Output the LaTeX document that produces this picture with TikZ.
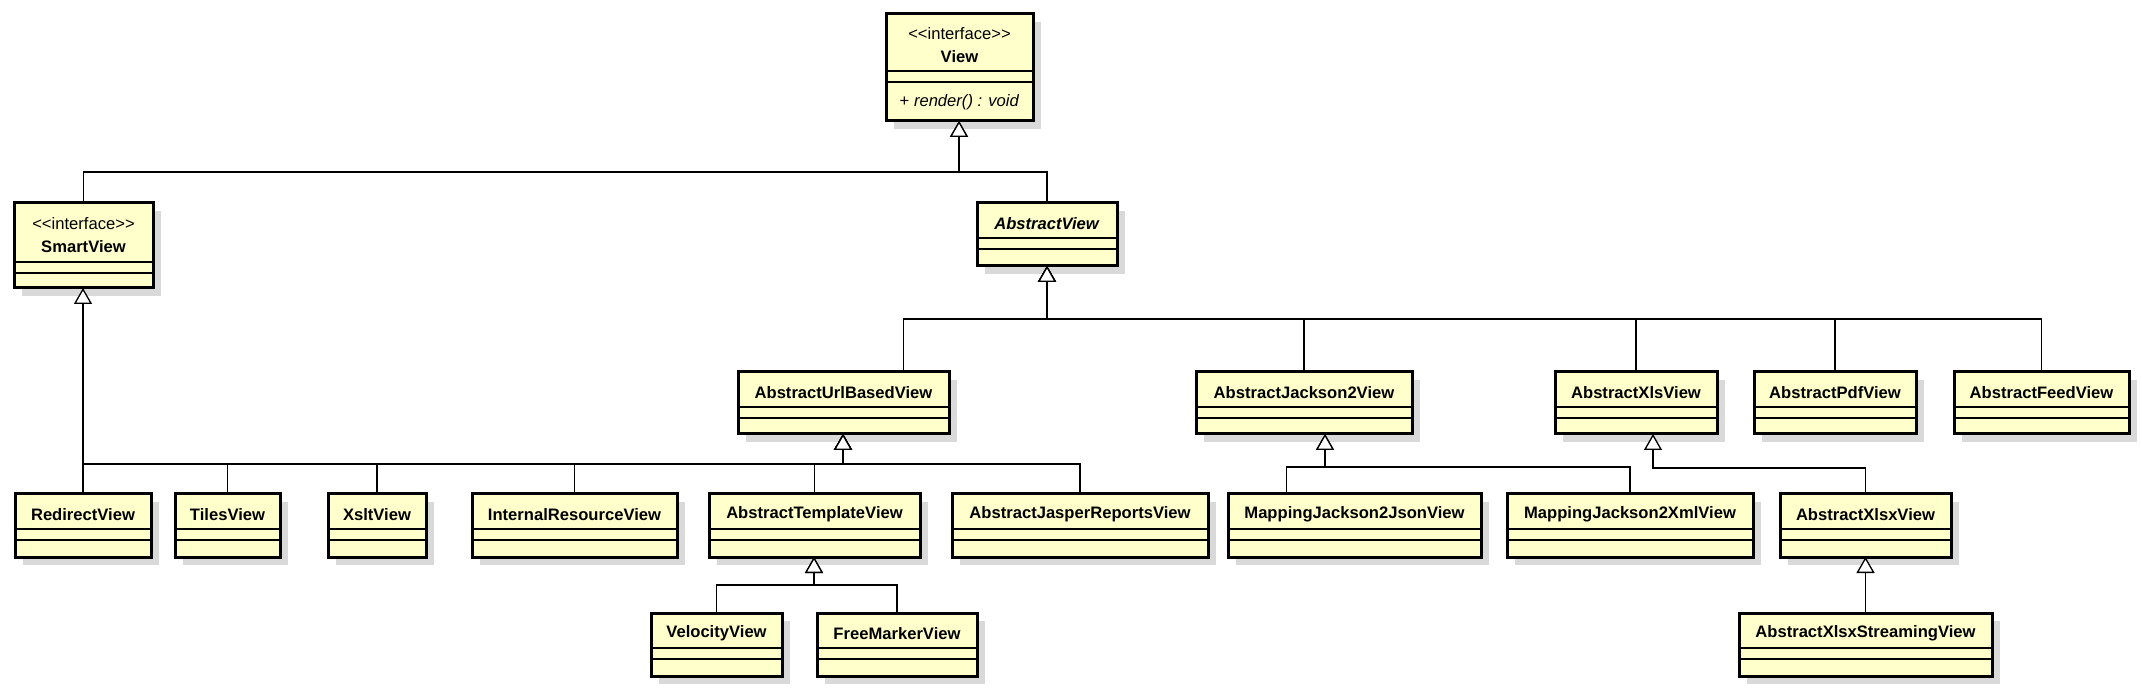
\documentclass[tikz,border=0pt]{standalone}
\usepackage{fontspec}
\setmainfont{Liberation Sans}
\usetikzlibrary{arrows.meta,calc}
\definecolor{classfill}{RGB}{255,255,204}
\tikzset{
  klassbox/.style={draw, fill=classfill, line width=1.5pt, inner sep=0pt, outer sep=0pt},
  klassshadow/.style={fill=black!15},
  klasssep/.style={line width=0.6pt},
  klasstext/.style={font=\fontsize{8.3}{11.5}\selectfont\bfseries, align=center, inner sep=0pt},
  gen/.style={line width=0.65pt, -{Triangle[fill=white,length=8pt,width=9pt]}}
}
% #1 header height, #2 name, #3-#6 corners (px), #7 text
\newcommand{\klass}[7][35]{%
  \fill[klassshadow] (#3+8,#4+8) rectangle (#5+8,#6+8);
  \node[klassbox, anchor=north west, minimum width={0.5pt*(#5-#3)},
        minimum height={0.5pt*(#6-#4)}] (#2) at (#3,#4) {};
  \draw[klasssep] ([yshift={-0.5pt*#1}]#2.north west) -- ([yshift={-0.5pt*#1}]#2.north east)
        ([yshift={-0.5pt*(#1+11)}]#2.north west) -- ([yshift={-0.5pt*(#1+11)}]#2.north east);
  \node[klasstext] (#2-name) at ([yshift={-0.5pt*(#1/2+3)}]#2.north) {#7};
}
\begin{document}
\begin{tikzpicture}[x=0.5pt, y=-0.5pt]
\useasboundingbox (0,0) rectangle (2142,689);
% classes
\klass[57]{view}{886}{14}{1033}{121}{{\mdseries <{}<interface>{}>}\\View}
\node[font=\fontsize{8.3}{10}\selectfont] (render) at ($(view.south)+(0,-19)$) {+ \textit{render() : void}};
\klass[59]{smart}{14}{203}{153}{288}{{\mdseries <{}<interface>{}>}\\SmartView}
\klass{abstract}{977}{203}{1117}{266}{\textit{AbstractView}}
\klass{urlbased}{738}{372}{949}{434}{AbstractUrlBasedView}
\klass{jackson}{1196}{372}{1412}{434}{AbstractJackson2View}
\klass{xls}{1555}{372}{1717}{434}{AbstractXlsView}
\klass{pdf}{1754}{372}{1916}{434}{AbstractPdfView}
\klass{feed}{1954}{372}{2129}{434}{AbstractFeedView}
\klass{redirect}{15}{494}{151}{557}{RedirectView}
\klass{tiles}{175}{494}{280}{557}{TilesView}
\klass{xslt}{328}{494}{426}{557}{XsltView}
\klass{internal}{472}{494}{677}{557}{InternalResourceView}
\klass{template}{709}{494}{920}{557}{AbstractTemplateView}
\klass{jasper}{952}{494}{1208}{557}{AbstractJasperReportsView}
\klass{json}{1228}{494}{1481}{557}{MappingJackson2JsonView}
\klass{xmlview}{1507}{494}{1753}{557}{MappingJackson2XmlView}
\klass{xlsx}{1780}{494}{1951}{557}{AbstractXlsxView}
\klass{velocity}{651}{613}{782}{676}{VelocityView}
\klass{freemarker}{817}{613}{977}{676}{FreeMarkerView}
\klass{streaming}{1739}{613}{1992}{676}{AbstractXlsxStreamingView}
% bus points
\coordinate (busView) at (959,172);
\coordinate (busAbs) at (1047,319);
\coordinate (busUrl) at (843,464);
\coordinate (busTpl) at (814,585);
\coordinate (busJack) at (1325,467);
\coordinate (busXls) at (1653,468);
% generalizations
\draw[gen] (smart.north) |- (busView) -- (busView |- view.south);
\draw[gen] (abstract.north) |- (busView) -- (busView |- view.south);
\draw[gen] ($(urlbased.north)+(60,0)$) |- (busAbs) -- (busAbs |- abstract.south);
\foreach \c in {jackson,xls,pdf,feed}
  \draw[gen] (\c.north) |- (busAbs) -- (busAbs |- abstract.south);
\foreach \c in {redirect,tiles,xslt,internal,template,jasper}
  \draw[gen] (\c.north) |- (busUrl) -- (busUrl |- urlbased.south);
\draw[gen] (redirect.north) -- (redirect.north |- smart.south);
\foreach \c in {velocity,freemarker}
  \draw[gen] (\c.north) |- (busTpl) -- (busTpl |- template.south);
\draw[gen] ($(json.north)+(-68,0)$) |- (busJack) -- (busJack |- jackson.south);
\draw[gen] (xmlview.north) |- (busJack) -- (busJack |- jackson.south);
\draw[gen] (xlsx.north) |- (busXls) -- (busXls |- xls.south);
\draw[gen] (streaming.north) -- (streaming.north |- xlsx.south);
\end{tikzpicture}
\end{document}
